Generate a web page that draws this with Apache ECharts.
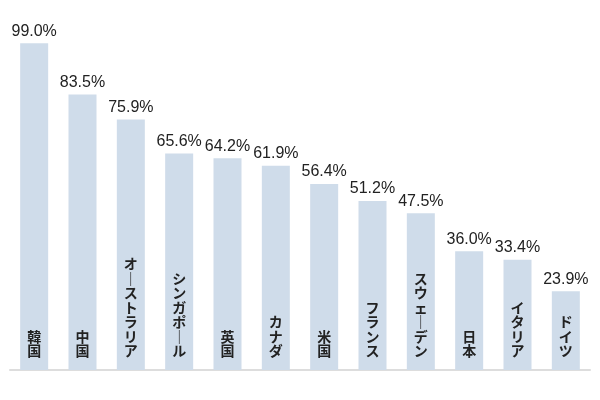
<!DOCTYPE html>
<html>
<head>
<meta charset="utf-8">
<script src="https://cdn.jsdelivr.net/npm/echarts@6/dist/echarts.min.js"></script>
<style>
html, body { margin: 0; padding: 0; background: #fff; }
#chart { width: 600px; height: 400px; }
</style>
</head>
<body>
<div id="chart"></div>
<script>
var countries = ['韓国', '中国', 'オーストラリア', 'シンガポール', '英国', 'カナダ', '米国', 'フランス', 'スウェーデン', '日本', 'イタリア', 'ドイツ'];
var rates = [99.0, 83.5, 75.9, 65.6, 64.2, 61.9, 56.4, 51.2, 47.5, 36.0, 33.4, 23.9];

var myChart = echarts.init(document.getElementById('chart'));

// stack characters to imitate vertical writing; long vowel mark is drawn upright
var verticalText = function (s) {
	return s.split('').map(function (c) {
		return c === 'ー' ? '｜' : c;
	}).join('\n');
};

var option = {
	backgroundColor: '#fff',
	animation: false,
	grid: {
		left: 10,
		right: 10,
		top: 40,
		bottom: 30
	},
	xAxis: {
		type: 'category',
		data: countries,
		axisLine: {
			lineStyle: { color: '#dddddd', width: 2 }
		},
		axisTick: { show: false },
		axisLabel: { show: false }
	},
	yAxis: {
		type: 'value',
		min: 0,
		max: 100,
		show: false,
		splitLine: { show: false }
	},
	series: [
		{
			type: 'bar',
			data: rates,
			barWidth: 28,
			itemStyle: { color: '#cfdcea' },
			label: {
				show: true,
				position: 'top',
				distance: 4,
				formatter: function (p) {
					return p.value.toFixed(1) + '%';
				},
				fontFamily: 'Liberation Sans, Arial, sans-serif',
				fontSize: 16,
				color: '#222'
			}
		},
		{
			// category names written inside the bars
			type: 'bar',
			data: rates,
			barWidth: 28,
			barGap: '-100%',
			itemStyle: { color: 'transparent' },
			silent: true,
			label: {
				show: true,
				position: 'insideBottom',
				distance: 12,
				formatter: function (p) {
					return verticalText(p.name);
				},
				fontFamily: 'Noto Sans CJK JP',
				fontWeight: 'bold',
				fontSize: 14,
				lineHeight: 14.5,
				color: '#222'
			}
		}
	]
};
myChart.setOption(option);
</script>
</body>
</html>
